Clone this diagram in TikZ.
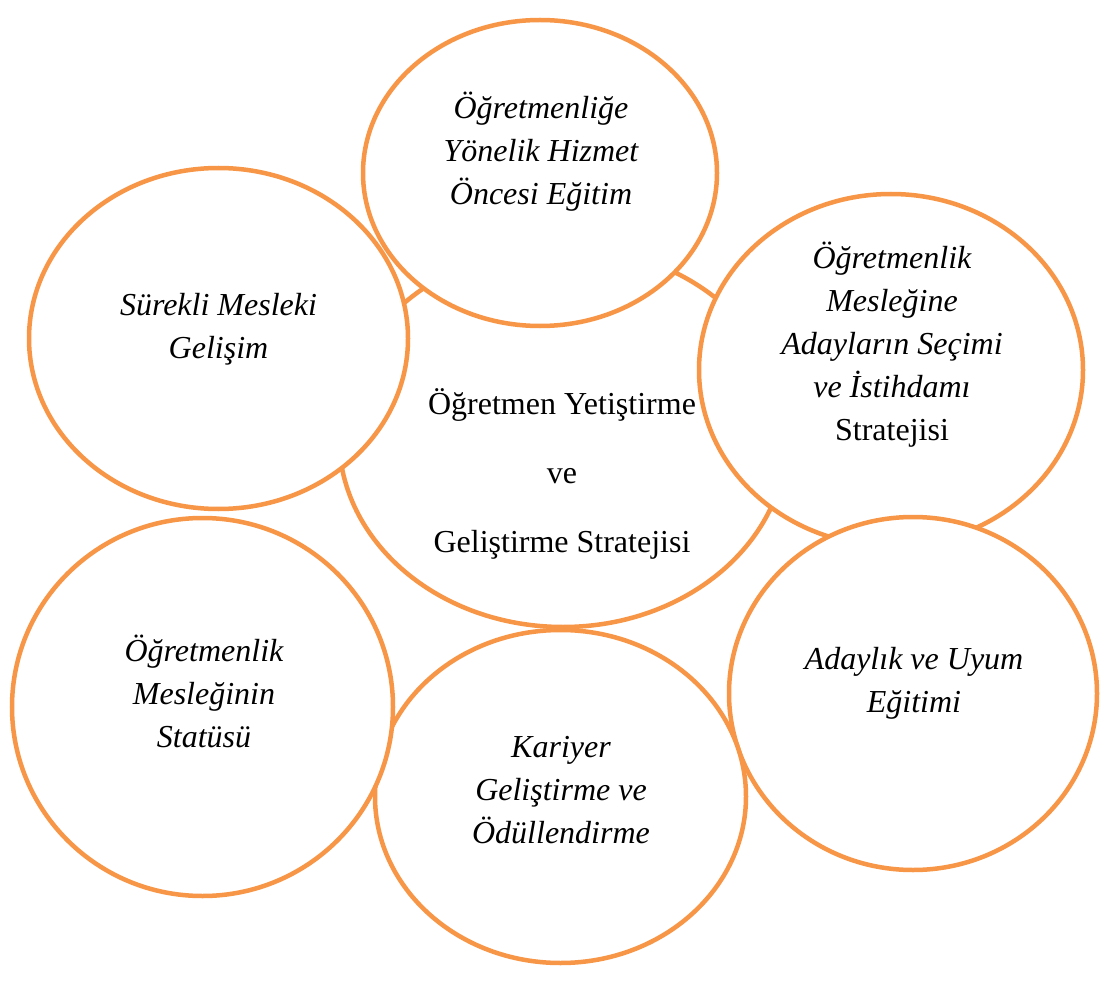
\documentclass[tikz,border=0pt]{standalone}
\usepackage{fontspec}
\setmainfont{Liberation Serif}
\usepackage{tikz}
\usetikzlibrary{shapes.geometric}
\definecolor{petalOrange}{RGB}{247,150,70}
\tikzstyle{hubEllipse}=[ellipse, draw=petalOrange, fill=white, line width=4.5pt, inner sep=0pt]
\tikzstyle{petal}=[ellipse, draw=petalOrange, fill=white, line width=4.5pt, inner sep=0pt]
\tikzstyle{hubText}=[align=center, inner sep=0pt, font=\fontsize{32}{69}\selectfont]
\tikzstyle{petalText}=[align=center, inner sep=0pt, font=\itshape\fontsize{32}{43}\selectfont]

\begin{document}
\begin{tikzpicture}[x=1pt, y=-1pt]
      \useasboundingbox (0,0) rectangle (1103,984);

      % ellipses, back to front
      \node[hubEllipse, minimum width=448pt, minimum height=380pt] (hub) at (563,437) {};
      \node[petal, minimum width=354pt, minimum height=306pt] (pre) at (540,173) {};
      \node[petal, minimum width=384pt, minimum height=352pt] (sel) at (891,370) {};
      \node[petal, minimum width=368pt, minimum height=353pt] (ind) at (913,693.5) {};
      \node[petal, minimum width=371pt, minimum height=333pt] (car) at (560.5,796.5) {};
      \node[petal, minimum width=381pt, minimum height=378pt] (sta) at (202.5,707) {};
      \node[petal, minimum width=379pt, minimum height=341pt] (cpd) at (218.5,338.5) {};

      % texts
      \node[hubText] (hubLabel) at (562,474) {Öğretmen Yetiştirme\\ve\\Geliştirme Stratejisi};
      \node[petalText] (preLabel) at (541,152) {Öğretmenliğe\\Yönelik Hizmet\\Öncesi Eğitim};
      \node[petalText] (selLabel) at (892,345) {Öğretmenlik\\Mesleğine\\Adayların Seçimi\\ve İstihdamı\\{\upshape Stratejisi}};
      \node[petalText] (indLabel) at (914,683) {Adaylık ve Uyum\\Eğitimi};
      \node[petalText] (carLabel) at (561,790) {Kariyer\\Geliştirme ve\\Ödüllendirme};
      \node[petalText] (staLabel) at (204,691) {Öğretmenlik\\Mesleğinin\\Statüsü};
      \node[petalText] (cpdLabel) at (218.5,329.5) {Sürekli Mesleki\\Gelişim};
    \end{tikzpicture}
\end{document}
